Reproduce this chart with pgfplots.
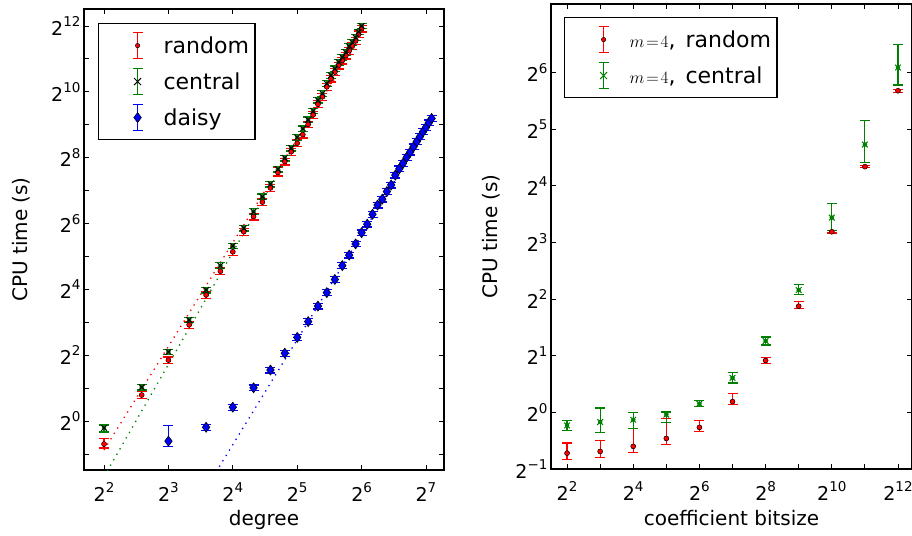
\documentclass[border=0pt]{standalone}
\usepackage{fontspec}
\setmainfont{DejaVu Sans}
\usepackage{pgfplots}
\pgfplotsset{compat=1.18}
\usepackage{pgfplotstable}
\newcommand\pw[1]{2\raisebox{0.45em}{\fontsize{13.5}{14}\selectfont #1}}
\newcommand\mfour{{\fontsize{18}{20}\selectfont$m\mkern2mu{=}\mkern2mu4$}}
\definecolor{mred}{rgb}{1,0,0}
\definecolor{mgreen}{rgb}{0,0.5,0}
\definecolor{mblue}{rgb}{0,0,1}

\pgfplotstableread{
d t ep em
4 0.6156 0.133 0.080
6 1.729 0.07 0.07
8 3.605 0.07 0.07
10 7.57 0.07 0.07
12 14.22 0.07 0.07
14 23.43 0.07 0.07
16 35.26 0.07 0.07
18 53.82 0.07 0.07
20 74.03 0.07 0.07
22 100.4 0.07 0.07
24 135.3 0.07 0.07
26 187.4 0.12 0.07
28 235.6 0.07 0.07
30 290.0 0.07 0.07
32 347.3 0.07 0.07
34 415.9 0.07 0.07
36 515.6 0.07 0.07
38 630.3 0.07 0.07
40 786.9 0.08 0.07
42 922.9 0.07 0.07
44 1136 0.07 0.07
46 1351 0.07 0.07
48 1552 0.07 0.07
50 1783 0.07 0.07
52 1978 0.07 0.07
54 2195 0.07 0.07
56 2435 0.07 0.07
58 2702 0.07 0.07
60 2998 0.07 0.07
62 3444 0.07 0.07
64 3875 0.07 0.07
}\randomL

\pgfplotstableread{
d t ep em
4 0.8645 0.064 0.080
6 2.042 0.06 0.06
8 4.287 0.06 0.06
10 8.398 0.06 0.06
12 15.78 0.06 0.06
14 26.36 0.06 0.06
16 39.95 0.06 0.06
18 58.08 0.06 0.06
20 82.14 0.06 0.06
22 112.2 0.06 0.06
24 147.0 0.06 0.06
26 200.9 0.06 0.06
28 254.2 0.06 0.06
30 313.0 0.06 0.06
32 393.4 0.06 0.06
34 471.1 0.06 0.06
36 568.1 0.06 0.06
38 685.0 0.06 0.06
40 861.1 0.06 0.06
42 989.1 0.06 0.06
44 1218 0.06 0.06
46 1448 0.06 0.06
48 1663 0.06 0.06
50 1911 0.06 0.06
52 2120 0.06 0.06
54 2353 0.06 0.06
56 2665 0.06 0.06
58 2896 0.06 0.06
60 3214 0.06 0.06
62 3616 0.06 0.06
64 4096 0.06 0.06
}\centralL

\pgfplotstableread{
d t ep em
8 0.6552 0.40 0.10
12 0.8766 0.06 0.06
16 1.3379 0.06 0.06
20 2.014 0.06 0.06
24 2.928 0.06 0.06
28 4.170 0.06 0.06
32 5.816 0.06 0.06
36 8.112 0.06 0.06
40 11.24 0.06 0.06
44 14.93 0.06 0.06
48 19.70 0.06 0.06
52 26.36 0.06 0.06
56 32.90 0.06 0.06
60 41.64 0.06 0.06
64 52.71 0.06 0.06
68 63.12 0.06 0.06
72 77.71 0.06 0.06
76 94.36 0.06 0.06
80 106.9 0.06 0.06
84 125.4 0.06 0.06
88 144.0 0.06 0.06
92 177.3 0.06 0.06
96 202.3 0.06 0.06
100 227.5 0.06 0.06
104 257.8 0.06 0.06
108 288.0 0.06 0.06
112 321.8 0.06 0.06
116 359.5 0.06 0.06
120 398.9 0.06 0.06
124 442.7 0.06 0.06
128 484.4 0.06 0.06
132 533.8 0.06 0.06
136 584.1 0.06 0.06
}\daisyL

\pgfplotstableread{
b t ep em
4 0.6071 0.133 0.073
8 0.6198 0.149 0.067
16 0.6598 0.248 0.073
32 0.7270 0.274 0.073
64 0.8322 0.0905 0.047
128 1.1408 0.102 0.037
256 1.888 0.041 0.039
512 3.668 0.061 0.031
1024 9.126 0.015 0.015
2048 20.25 0.015 0.015
4096 51.27 0.02 0.02
}\randomR

\pgfplotstableread{
b t ep em
4 0.8527 0.064 0.061
8 0.8888 0.186 0.117
16 0.9138 0.098 0.099
32 0.9727 0.032 0.092
64 1.1119 0.040 0.032
128 1.5263 0.072 0.061
256 2.395 0.050 0.047
512 4.469 0.072 0.054
1024 10.85 0.189 0.147
2048 26.54 0.338 0.199
4096 68.12 0.320 0.193
}\centralR

\begin{document}
\begin{tikzpicture}
\useasboundingbox (0,0) rectangle (912pt,-535pt);
\begin{axis}[
  scale only axis,
  xmode=log, ymode=log, log basis x=2, log basis y=2,
  tick align=inside, major tick length=5pt,
  tick style={black, line width=0.8pt},
  axis line style={line width=1.2pt},
  tick label style={font=\fontsize{19}{22}\selectfont},
  xticklabel style={anchor=base, yshift=-31pt},
  label style={font=\fontsize{20}{24}\selectfont},
  xlabel style={at={(axis description cs:0.5,0)}, anchor=base, yshift=-55pt},
  ylabel style={at={(axis description cs:-0.1583,0.5)}, anchor=base},
  legend cell align=left,
  at={(84pt,-470pt)}, anchor=south west,
  width=360pt, height=461pt,
  xmin=3.224, xmax=155.4, ymin=0.3566, ymax=5853,
  xtick={4,8,16,32,64,128},
  xticklabels={\pw{2},\pw{3},\pw{4},\pw{5},\pw{6},\pw{7}},
  ytick={0.5,1,2,4,8,16,32,64,128,256,512,1024,2048,4096},
  yticklabels={,\pw{0},,\pw{2},,\pw{4},,\pw{6},,\pw{8},,\pw{10},,\pw{12}},
  xlabel={degree}, ylabel={CPU time (s)},
  legend style={at={(axis description cs:0,1)}, anchor=north west,
    xshift=14pt, yshift=-14pt, draw=black, line width=1.2pt,
    font=\fontsize{22}{26}\selectfont, row sep=6pt, inner xsep=4pt, inner ysep=7pt},
]
\addplot[mred, line width=1.3pt, dash pattern=on 1.3pt off 5pt, forget plot] coordinates {(4,0.5434) (64,3373)};
\addplot[mgreen, line width=1.3pt, dash pattern=on 1.3pt off 5pt, forget plot] coordinates {(4,0.3099) (64,3957)};
\addplot[mblue, line width=1.3pt, dash pattern=on 1.3pt off 5pt, forget plot] coordinates {(12,0.2432) (136,560.3)};

% error bars
\addplot[mred, only marks, mark=none,
  error bars/y dir=both, error bars/y explicit relative,
  error bars/error bar style={draw=mred, line width=1.2pt},
  error bars/error mark options={rotate=90, mark size=5pt, line width=1.2pt, draw=mred},
  legend image code/.code={
    \path[draw=none, fill=none] (-35pt,-15pt) rectangle (24pt,15pt);
    \draw[draw=mred, line width=1.2pt] (0pt,-13pt) -- (0pt,13pt) (-5pt,13pt) -- (5pt,13pt) (-5pt,-13pt) -- (5pt,-13pt);
    \draw[fill=mred, draw=black, line width=0.5pt] (0pt,0pt) circle (2.2pt);
  }]
  table[x=d, y=t, y error plus=ep, y error minus=em] {\randomL};
\addlegendentry{random}
\addplot[mgreen, only marks, mark=none,
  error bars/y dir=both, error bars/y explicit relative,
  error bars/error bar style={draw=mgreen, line width=1.2pt},
  error bars/error mark options={rotate=90, mark size=5pt, line width=1.2pt, draw=mgreen},
  legend image code/.code={
    \path[draw=none, fill=none] (-35pt,-15pt) rectangle (24pt,15pt);
    \draw[draw=mgreen, line width=1.2pt] (0pt,-13pt) -- (0pt,13pt) (-5pt,13pt) -- (5pt,13pt) (-5pt,-13pt) -- (5pt,-13pt);
    \draw[draw=black, line width=1pt] (-3.5pt,-3.5pt) -- (3.5pt,3.5pt) (-3.5pt,3.5pt) -- (3.5pt,-3.5pt);
  }]
  table[x=d, y=t, y error plus=ep, y error minus=em] {\centralL};
\addlegendentry{central}
\addplot[mblue, only marks, mark=none,
  error bars/y dir=both, error bars/y explicit relative,
  error bars/error bar style={draw=mblue, line width=1.2pt},
  error bars/error mark options={rotate=90, mark size=5pt, line width=1.2pt, draw=mblue},
  legend image code/.code={
    \path[draw=none, fill=none] (-35pt,-15pt) rectangle (24pt,15pt);
    \draw[draw=mblue, line width=1.2pt] (0pt,-13pt) -- (0pt,13pt) (-5pt,13pt) -- (5pt,13pt) (-5pt,-13pt) -- (5pt,-13pt);
    \draw[fill=mblue, draw=black, line width=0.6pt] (0pt,5pt) -- (3.75pt,0pt) -- (0pt,-5pt) -- (-3.75pt,0pt) -- cycle;
  }]
  table[x=d, y=t, y error plus=ep, y error minus=em] {\daisyL};
\addlegendentry{daisy}
% markers
\addplot[forget plot, only marks, mark=*, mark size=2.5pt, mark options={fill=mred, draw=black, line width=0.5pt}]
  table[x=d, y=t] {\randomL};
\addplot[forget plot, only marks, mark=x, mark size=4pt, mark options={line width=1pt, draw=black}]
  table[x=d, y=t] {\centralL};
\addplot[forget plot, only marks, mark=diamond*, mark size=5pt, mark options={fill=mblue, draw=black, line width=0.6pt}]
  table[x=d, y=t] {\daisyL};
\end{axis}

\begin{axis}[
  scale only axis,
  xmode=log, ymode=log, log basis x=2, log basis y=2,
  tick align=inside, major tick length=5pt,
  tick style={black, line width=0.8pt},
  axis line style={line width=1.2pt},
  tick label style={font=\fontsize{19}{22}\selectfont},
  xticklabel style={anchor=base, yshift=-31pt},
  label style={font=\fontsize{20}{24}\selectfont},
  xlabel style={at={(axis description cs:0.5,0)}, anchor=base, yshift=-56pt},
  ylabel style={at={(axis description cs:-0.1496,0.5)}, anchor=base},
  legend cell align=left,
  at={(551pt,-469pt)}, anchor=south west,
  width=361pt, height=465pt,
  xmin=2.858, xmax=5495, ymin=0.5, ymax=148.3,
  xtick={4,8,16,32,64,128,256,512,1024,2048,4096},
  xticklabels={\pw{2},,\pw{4},,\pw{6},,\pw{8},,\pw{10},,\pw{12}},
  ytick={0.5,1,2,4,8,16,32,64},
  yticklabels={\pw{−1},\pw{0},\pw{1},\pw{2},\pw{3},\pw{4},\pw{5},\pw{6}},
  xlabel={coefficient bitsize}, ylabel={CPU time (s)},
  legend style={at={(axis description cs:0,1)}, anchor=north west,
    xshift=13pt, yshift=-13pt, draw=black, line width=1.2pt,
    font=\fontsize{22}{26}\selectfont, row sep=6pt, inner xsep=4pt, inner ysep=7pt},
]
\addplot[mred, only marks, mark=none,
  error bars/y dir=both, error bars/y explicit relative,
  error bars/error bar style={draw=mred, line width=1.2pt},
  error bars/error mark options={rotate=90, mark size=5pt, line width=1.2pt, draw=mred},
  legend image code/.code={
    \path[draw=none, fill=none] (-35pt,-15pt) rectangle (24pt,15pt);
    \draw[draw=mred, line width=1.2pt] (0pt,-13pt) -- (0pt,13pt) (-5pt,13pt) -- (5pt,13pt) (-5pt,-13pt) -- (5pt,-13pt);
    \draw[fill=mred, draw=black, line width=0.5pt] (0pt,0pt) circle (2.2pt);
  }]
  table[x=b, y=t, y error plus=ep, y error minus=em] {\randomR};
\addlegendentry{\mfour,\hspace{10pt}random}
\addplot[mgreen, only marks, mark=none,
  error bars/y dir=both, error bars/y explicit relative,
  error bars/error bar style={draw=mgreen, line width=1.2pt},
  error bars/error mark options={rotate=90, mark size=5pt, line width=1.2pt, draw=mgreen},
  legend image code/.code={
    \path[draw=none, fill=none] (-35pt,-15pt) rectangle (24pt,15pt);
    \draw[draw=mgreen, line width=1.2pt] (0pt,-13pt) -- (0pt,13pt) (-5pt,13pt) -- (5pt,13pt) (-5pt,-13pt) -- (5pt,-13pt);
    \draw[draw=mgreen, line width=1pt] (-3.5pt,-3.5pt) -- (3.5pt,3.5pt) (-3.5pt,3.5pt) -- (3.5pt,-3.5pt);
  }]
  table[x=b, y=t, y error plus=ep, y error minus=em] {\centralR};
\addlegendentry{\mfour,\hspace{10pt}central}
\addplot[forget plot, only marks, mark=*, mark size=2.5pt, mark options={fill=mred, draw=black, line width=0.5pt}]
  table[x=b, y=t] {\randomR};
\addplot[forget plot, only marks, mark=x, mark size=4pt, mark options={line width=1pt, draw=mgreen}]
  table[x=b, y=t] {\centralR};
\end{axis}
\end{tikzpicture}
\end{document}
